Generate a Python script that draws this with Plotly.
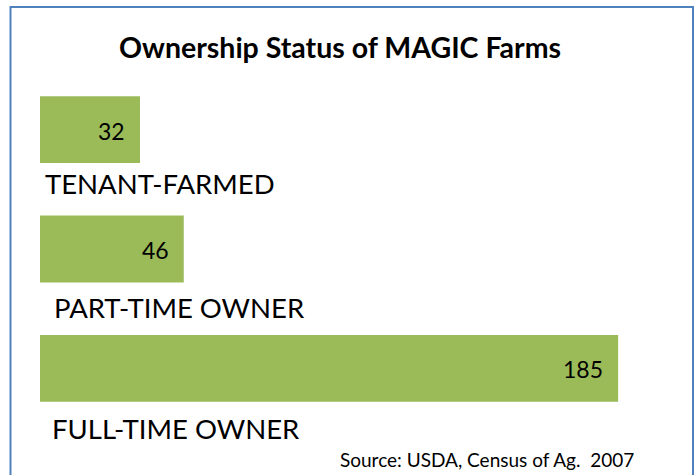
import plotly.graph_objects as go

categories = ["TENANT-FARMED", "PART-TIME OWNER", "FULL-TIME OWNER"]
values = [32, 46, 185]
title_text = "Ownership Status of MAGIC Farms"
source_text = "Source: USDA, Census of Ag.  2007"

BAR_COLOR = "#9BBB59"
BORDER_COLOR = "#4F81BD"
FONT = "Lato"

W, H = 696, 475
ML, MR, MT, MB = 40, 31, 70, 47
PW, PH = W - ML - MR, H - MT - MB

def px_x(px):
    return (px - ML) / PW

def px_y(py):
    return (H - MB - py) / PH

fig = go.Figure()
fig.add_trace(go.Bar(
    x=values, y=categories, orientation="h",
    marker=dict(color=BAR_COLOR, line=dict(width=0)),
    width=0.56, hoverinfo="skip",
))

label_dx = [3, 12, 10]
label_dy = [-54, -58, -60]
annotations = []
for i, (c, v) in enumerate(zip(categories, values)):
    annotations.append(dict(
        x=0, y=c, xref="x", yref="y", text=c, showarrow=False,
        xanchor="left", yanchor="middle", xshift=label_dx[i], yshift=label_dy[i],
        font=dict(family=FONT, size=27.5, color="#000000"),
    ))
    annotations.append(dict(
        x=v, y=c, xref="x", yref="y", text=str(v), showarrow=False,
        xanchor="right", yanchor="middle", xshift=-13, yshift=-1,
        font=dict(family=FONT, size=23, color="#000000"),
    ))

annotations.append(dict(
    x=px_x(340), y=px_y(47), xref="paper", yref="paper", text="<b>" + title_text + "</b>",
    showarrow=False, xanchor="center", yanchor="middle",
    font=dict(family=FONT, size=28.5, color="#000000"),
))
annotations.append(dict(
    x=px_x(636), y=px_y(460), xref="paper", yref="paper", text=source_text,
    showarrow=False, xanchor="right", yanchor="middle",
    font=dict(family=FONT, size=19, color="#000000"),
))

fig.update_layout(
    width=W, height=H,
    margin=dict(l=ML, r=MR, t=MT, b=MB),
    paper_bgcolor="white", plot_bgcolor="white",
    showlegend=False,
    xaxis=dict(range=[0, PW / 3.125], visible=False, fixedrange=True),
    yaxis=dict(range=[2.5, -0.5], visible=False, fixedrange=True,
               categoryorder="array", categoryarray=categories),
    annotations=annotations,
    shapes=[dict(
        type="rect", xref="paper", yref="paper",
        x0=px_x(10.5), x1=px_x(693), y0=px_y(7), y1=px_y(490),
        line=dict(color=BORDER_COLOR, width=2), fillcolor="rgba(0,0,0,0)", layer="above",
    )],
)

fig.write_html(
    "out.html",
    config={"displayModeBar": False},
    post_script="document.body.style.margin='0';document.body.style.overflow='hidden';",
)
